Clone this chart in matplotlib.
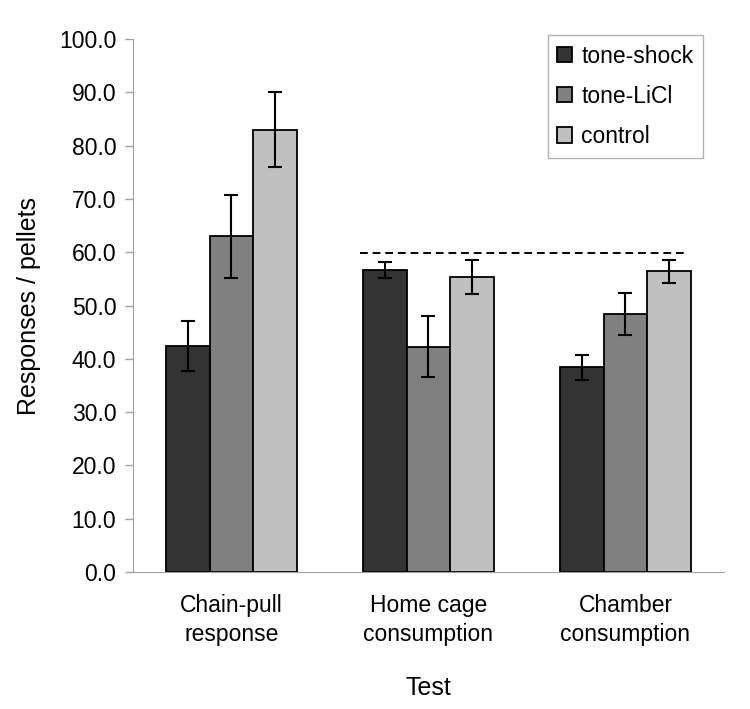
import matplotlib
matplotlib.use("Agg")
import matplotlib.pyplot as plt
import numpy as np

categories = ["Chain-pull\nresponse", "Home cage\nconsumption", "Chamber\nconsumption"]
series = ["tone-shock", "tone-LiCl", "control"]
tone_shock = [42.4, 56.7, 38.4]
tone_shock_err = [4.7, 1.5, 2.3]
tone_licl = [63.0, 42.3, 48.4]
tone_licl_err = [7.8, 5.8, 4.0]
control = [83.0, 55.4, 56.4]
control_err = [7.1, 3.2, 2.2]
reference_level = 59.8
yticks = [0, 10, 20, 30, 40, 50, 60, 70, 80, 90, 100]

colors = ["#333333", "#808080", "#c0c0c0"]

plt.rcParams['font.family'] = ['Liberation Sans', 'DejaVu Sans']

fig = plt.figure(figsize=(7.5, 7.09), dpi=100)
ax = fig.add_axes([0.1773, 0.1932, 0.788, 0.7518])

x = np.arange(1, len(categories) + 1)
w = 0.223
vals = [tone_shock, tone_licl, control]
errs = [tone_shock_err, tone_licl_err, control_err]
for i, (v, e, c, name) in enumerate(zip(vals, errs, colors, series)):
    pos = x + (i - 1) * w
    ax.bar(pos, v, width=w, color=c, edgecolor="black", linewidth=1.3, label=name, zorder=2)
    ax.errorbar(pos, v, yerr=e, fmt="none", ecolor="black", elinewidth=1.5,
                capsize=5, capthick=1.5, zorder=3)

ax.plot([1.652, 3.312], [reference_level, reference_level], color="black",
        linestyle=(0, (4, 2.5)), linewidth=1.4, zorder=3)

ax.set_xlim(0.5, 3.5)
ax.set_ylim(0, 100)
ax.set_yticks(yticks)
ax.set_yticklabels([f"{t:.1f}" for t in yticks], fontsize=16.5)
ax.set_xticks(x)
ax.set_xticklabels(categories, fontsize=16.5, linespacing=1.3)
ax.tick_params(axis="x", length=0, pad=16)
ax.tick_params(axis="y", length=6, color="#a0a0a0", width=1, pad=6)
for s in ["top", "right"]:
    ax.spines[s].set_visible(False)
ax.spines["left"].set_color("#a0a0a0")
ax.spines["bottom"].set_color("#a0a0a0")
ax.set_ylabel("Responses / pellets", fontsize=18, labelpad=13)
ax.set_xlabel("Test", fontsize=18, labelpad=22)

leg = ax.legend(loc="upper right", bbox_to_anchor=(0.9373, 0.9506), bbox_transform=fig.transFigure,
                fontsize=16.5, frameon=True, fancybox=False, edgecolor="#a0a0a0",
                handlelength=0.65, handleheight=0.65, handletextpad=0.4,
                labelspacing=0.75, borderpad=0.42, borderaxespad=0)
leg.get_frame().set_linewidth(1)

fig.savefig("out.png", dpi=100)
